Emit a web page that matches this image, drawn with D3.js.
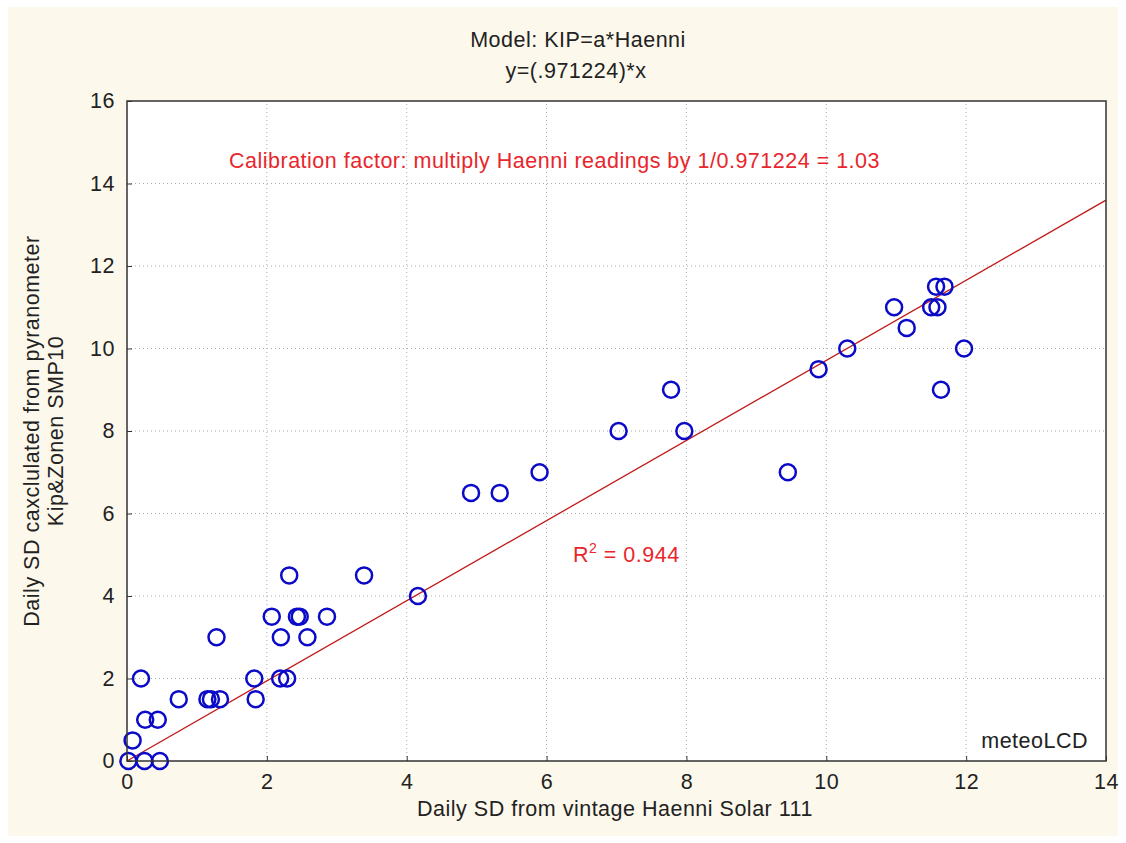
<!DOCTYPE html>
<html>
<head>
<meta charset="utf-8">
<script src="https://cdn.jsdelivr.net/npm/d3@7"></script>
<style>
  body { margin: 0; background: #fff; }
  text { font-family: "Liberation Sans", Arial, sans-serif; letter-spacing: 0.5px; }
</style>
</head>
<body>
<svg id="chart"></svg>
<script>
// readings: Haenni (x) vs Kipp&Zonen (y), daily sunshine duration
const haenni = [0.02, 0.25, 0.47, 0.08, 0.2, 0.26, 0.44, 0.74, 1.15, 1.2, 1.33, 1.28,
  1.82, 1.84, 2.19, 2.29, 2.07, 2.2, 2.32, 2.43, 2.47, 2.58, 2.86, 3.39,
  4.16, 4.92, 5.33, 5.9, 7.03, 7.78, 7.97, 9.45, 9.89, 10.3, 10.97, 11.15,
  11.5, 11.59, 11.57, 11.69, 11.64, 11.97];
const kip = [0, 0, 0, 0.5, 2, 1, 1, 1.5, 1.5, 1.5, 1.5, 3,
  2, 1.5, 2, 2, 3.5, 3, 4.5, 3.5, 3.5, 3, 3.5, 4.5,
  4, 6.5, 6.5, 7, 8, 9, 8, 7, 9.5, 10, 11, 10.5,
  11, 11, 11.5, 11.5, 9, 10];
const slope = 0.971224;
const xTicks = [0, 2, 4, 6, 8, 10, 12, 14];
const yTicks = [0, 2, 4, 6, 8, 10, 12, 14, 16];

const width = 1126, height = 843;
const margin = {top: 101, right: 20, bottom: 82, left: 127};
const fs = 21.5;

const svg = d3.select('#chart')
    .attr('width', width)
    .attr('height', height);

// cream page background with thin white edge
svg.append('rect')
    .attr('x', 8).attr('y', 7)
    .attr('width', width - 16).attr('height', height - 14)
    .attr('fill', '#fdf8ec');

const x = d3.scaleLinear().domain([0, 14]).range([margin.left, width - margin.right]);
const y = d3.scaleLinear().domain([0, 16]).range([height - margin.bottom, margin.top]);

// plot area
svg.append('rect')
    .attr('x', x(0)).attr('y', y(16))
    .attr('width', x(14) - x(0)).attr('height', y(0) - y(16))
    .attr('fill', '#fff');

// dotted grid
svg.append('g')
    .selectAll('line')
    .data(xTicks.slice(1, -1))
    .join('line')
    .attr('x1', d => x(d)).attr('x2', d => x(d))
    .attr('y1', y(0)).attr('y2', y(16))
    .attr('stroke', '#aaa').attr('stroke-dasharray', '1,3');

svg.append('g')
    .selectAll('line')
    .data(yTicks.slice(1, -1))
    .join('line')
    .attr('x1', x(0)).attr('x2', x(14))
    .attr('y1', d => y(d)).attr('y2', d => y(d))
    .attr('stroke', '#aaa').attr('stroke-dasharray', '1,3');

// axes
const xAxis = d3.axisBottom(x).tickValues(xTicks).tickSize(-5).tickPadding(13).tickFormat(d3.format('d'));
const yAxis = d3.axisLeft(y).tickValues(yTicks).tickSize(-5).tickPadding(12).tickFormat(d3.format('d'));

const gx = svg.append('g').attr('transform', `translate(0,${y(0)})`).call(xAxis);
const gy = svg.append('g').attr('transform', `translate(${x(0)},0)`).call(yAxis);
[gx, gy].forEach(g => {
    g.select('.domain').remove();
    g.selectAll('.tick line').attr('stroke', '#333');
    g.selectAll('.tick text').attr('font-size', fs).attr('fill', '#222')
        .style('font-family', '"Liberation Sans", Arial, sans-serif');
});

// regression line y = a*x
svg.append('line')
    .attr('x1', x(0)).attr('y1', y(0))
    .attr('x2', x(14)).attr('y2', y(slope * 14))
    .attr('stroke', '#c01818').attr('stroke-width', 1.3);

// points
svg.append('g')
    .selectAll('circle')
    .data(haenni.map((h, i) => [h, kip[i]]))
    .join('circle')
    .attr('cx', d => x(d[0]))
    .attr('cy', d => y(d[1]))
    .attr('r', 8)
    .attr('fill', 'none')
    .attr('stroke', '#0a0ac8')
    .attr('stroke-width', 2.5);

// plot frame
svg.append('rect')
    .attr('x', x(0)).attr('y', y(16))
    .attr('width', x(14) - x(0)).attr('height', y(0) - y(16))
    .attr('fill', 'none')
    .attr('stroke', '#333').attr('stroke-width', 1.5);

// titles
svg.append('text')
    .attr('x', 578).attr('y', 47)
    .attr('text-anchor', 'middle').attr('font-size', fs).attr('fill', '#222')
    .text('Model: KIP=a*Haenni');
svg.append('text')
    .attr('x', 576).attr('y', 78)
    .attr('text-anchor', 'middle').attr('font-size', fs).attr('fill', '#222')
    .text('y=(.971224)*x');

svg.append('text')
    .attr('x', 615).attr('y', 816)
    .attr('text-anchor', 'middle').attr('font-size', fs).attr('fill', '#222')
    .text('Daily SD from vintage Haenni Solar 111');

const yl = svg.append('text')
    .attr('transform', `translate(39,${y(8)}) rotate(-90)`)
    .attr('text-anchor', 'middle').attr('font-size', fs).attr('fill', '#222');
yl.append('tspan').attr('x', 0).attr('dy', 0).text('Daily SD caxclulated from pyranometer');
yl.append('tspan').attr('x', 0).attr('dy', 24).text('Kip&Zonen SMP10');

// annotations
svg.append('text')
    .attr('x', 229).attr('y', 168)
    .attr('font-size', fs).attr('fill', '#e8262c')
    .text('Calibration factor: multiply Haenni readings by 1/0.971224 = 1.03');

const r2 = svg.append('text')
    .attr('x', 573).attr('y', 562)
    .attr('font-size', fs).attr('fill', '#e8262c');
r2.append('tspan').text('R');
r2.append('tspan').attr('dy', -9).attr('font-size', 14).text('2');
r2.append('tspan').attr('dy', 9).text(' = 0.944');

svg.append('text')
    .attr('x', 1088).attr('y', 748)
    .attr('text-anchor', 'end').attr('font-size', fs).attr('fill', '#222')
    .text('meteoLCD');
</script>
</body>
</html>
